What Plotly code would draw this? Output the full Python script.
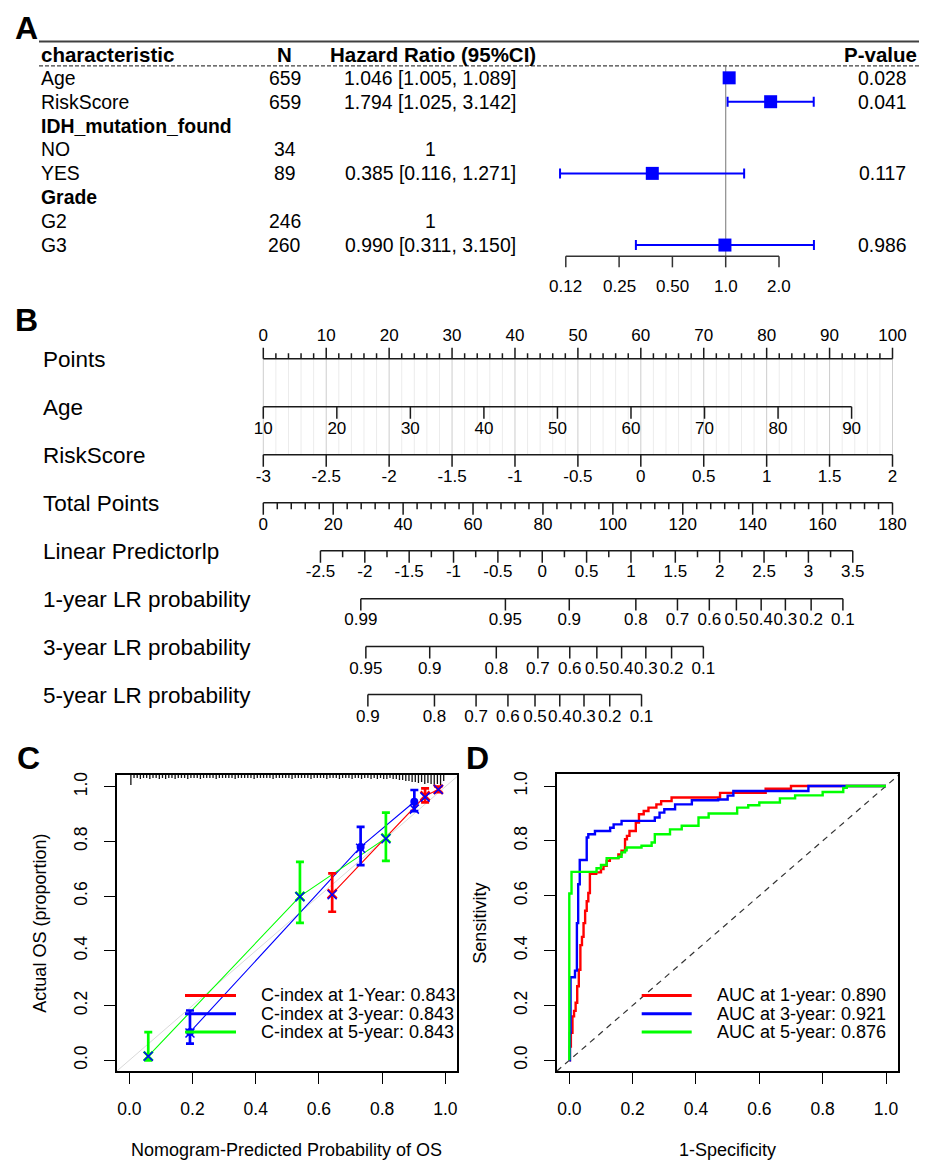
import numpy as np
import plotly.graph_objects as go

# page body has an 8px margin: the figure is drawn at an 8px offset
OFF = 8
W, H = 935 - OFF, 1176 - OFF
FONT = "Liberation Sans, Arial, Helvetica, sans-serif"

# ---------------- Panel A data (multivariate Cox) ----------------
a_labels = ["Age", "RiskScore", "IDH_mutation_found", "NO", "YES", "Grade", "G2", "G3"]
a_bold = [False, False, True, False, False, True, False, False]
a_n = ["659", "659", "", "34", "89", "", "246", "260"]
a_hr_text = ["1.046 [1.005, 1.089]", "1.794 [1.025, 3.142]", "", "1",
             "0.385 [0.116, 1.271]", "", "1", "0.990 [0.311, 3.150]"]
a_p = ["0.028", "0.041", "", "", "0.117", "", "", "0.986"]
a_hr = [1.046, 1.794, None, None, 0.385, None, None, 0.990]
a_lo = [1.005, 1.025, None, None, 0.116, None, None, 0.311]
a_hi = [1.089, 3.142, None, None, 1.271, None, None, 3.150]
a_ticks = [0.125, 0.25, 0.5, 1.0, 2.0]
a_ticktext = ["0.12", "0.25", "0.50", "1.0", "2.0"]

# ---------------- Panel B data (nomogram) ----------------
b_rows = ["Points", "Age", "RiskScore", "Total Points", "Linear Predictorlp",
          "1-year LR probability", "3-year LR probability", "5-year LR probability"]
points_ticks = [0, 10, 20, 30, 40, 50, 60, 70, 80, 90, 100]
points_minor_step = 2
age_ticks = [10, 20, 30, 40, 50, 60, 70, 80, 90]
risk_ticks = [-3, -2.5, -2, -1.5, -1, -0.5, 0, 0.5, 1, 1.5, 2]
total_ticks = [0, 20, 40, 60, 80, 100, 120, 140, 160, 180]
total_minor_step = 4
lp_ticks = [-2.5, -2, -1.5, -1, -0.5, 0, 0.5, 1, 1.5, 2, 2.5, 3, 3.5]
lp_minor_step = 0.25
surv_1yr = [0.99, 0.95, 0.9, 0.8, 0.7, 0.6, 0.5, 0.4, 0.3, 0.2, 0.1]
surv_3yr = [0.95, 0.9, 0.8, 0.7, 0.6, 0.5, 0.4, 0.3, 0.2, 0.1]
surv_5yr = [0.9, 0.8, 0.7, 0.6, 0.5, 0.4, 0.3, 0.2, 0.1]
# model scaling
age_min, age_pts_per_year = 10, 93.5 / 80
risk_min, risk_pts_per_unit = -3, 20.0
total_max = 180
lp_tp0, lp_tp_per_unit = 79.8, 25.38
cloglog_base = {"1": -2.555, "3": -0.982, "5": -0.285}

# ---------------- Panel C data (calibration) ----------------
cal_pred_1 = [0.642, 0.936, 0.978]
cal_obs_1 = [0.608, 0.966, 0.990]
cal_lo_1 = [0.543, 0.943, 0.980]
cal_hi_1 = [0.683, 0.994, 1.000]
cal_cor_1 = [0.605, 0.962, 0.990]
cal_pred_3 = [0.192, 0.732, 0.902]
cal_obs_3 = [0.103, 0.780, 0.945]
cal_lo_3 = [0.061, 0.713, 0.911]
cal_hi_3 = [0.182, 0.853, 0.988]
cal_cor_3 = [0.100, 0.775, 0.918]
cal_pred_5 = [0.060, 0.540, 0.812]
cal_obs_5 = [0.015, 0.599, 0.812]
cal_lo_5 = [0.000, 0.502, 0.729]
cal_hi_5 = [0.103, 0.725, 0.905]
cal_cor_5 = [0.015, 0.598, 0.810]
c_index = [0.843, 0.843, 0.843]
c_labels = ["1-Year", "3-year", "5-year"]
# distribution of predicted probabilities (rug spike heights, bins of 0.01)
rug_counts = [9, 2, 2, 3, 2, 2, 3, 2, 2, 3,
              2, 3, 2, 2, 3, 2, 2, 2, 3, 2,
              2, 2, 3, 2, 2, 2, 2, 3, 2, 2,
              2, 2, 2, 3, 2, 2, 2, 2, 2, 3,
              2, 2, 2, 2, 2, 3, 2, 2, 2, 2,
              2, 3, 2, 2, 2, 2, 2, 3, 2, 2,
              2, 2, 3, 2, 2, 2, 3, 2, 2, 2,
              3, 2, 2, 3, 2, 2, 3, 2, 3, 2,
              3, 3, 2, 3, 3, 4, 4, 5, 5, 6,
              6, 7, 6, 8, 7, 8, 9, 8, 9, 5]

# ---------------- Panel D data (time-dependent ROC) ----------------
roc1_fpr = [0, 0.002, 0.005, 0.010, 0.015, 0.020, 0.025, 0.030, 0.035, 0.040, 0.045, 0.050, 0.055,
            0.060, 0.065, 0.085, 0.100, 0.108, 0.118, 0.128, 0.155, 0.165, 0.176, 0.182, 0.190,
            0.210, 0.220, 0.235, 0.250, 0.275, 0.290, 0.323, 0.476, 0.620, 0.700, 1.0]
roc1_tpr = [0, 0.05, 0.10, 0.16, 0.18, 0.21, 0.27, 0.33, 0.42, 0.45, 0.50, 0.545, 0.58,
            0.61, 0.68, 0.685, 0.697, 0.709, 0.727, 0.737, 0.75, 0.764, 0.806, 0.818, 0.836,
            0.867, 0.897, 0.909, 0.921, 0.933, 0.945, 0.958, 0.975, 0.99, 1.0, 1.0]
roc3_fpr = [0, 0.002, 0.004, 0.018, 0.024, 0.028, 0.033, 0.055, 0.060, 0.081, 0.129, 0.140, 0.165,
            0.270, 0.285, 0.300, 0.334, 0.387, 0.470, 0.500, 0.518, 0.755, 1.0]
roc3_tpr = [0, 0.10, 0.303, 0.327, 0.50, 0.642, 0.73, 0.812, 0.824, 0.836, 0.848, 0.86, 0.873,
            0.885, 0.903, 0.915, 0.933, 0.948, 0.951, 0.965, 0.982, 1.0, 1.0]
roc5_fpr = [0, 0, 0.007, 0.086, 0.100, 0.118, 0.155, 0.165, 0.176, 0.181, 0.228, 0.260, 0.270,
            0.318, 0.355, 0.408, 0.440, 0.530, 0.565, 0.600, 0.665, 0.713, 0.800, 0.865, 0.876, 1.0]
roc5_tpr = [0, 0.608, 0.687, 0.70, 0.712, 0.737, 0.742, 0.758, 0.766, 0.776, 0.782, 0.794, 0.824,
            0.842, 0.855, 0.885, 0.90, 0.921, 0.93, 0.94, 0.955, 0.966, 0.978, 0.993, 1.0, 1.0]
auc = [0.890, 0.921, 0.876]
auc_labels = ["1-year", "3-year", "5-year"]

RED, BLUE, GREEN = "#FF0000", "#0000FF", "#00FF00"


def px(x):
    return (x - OFF) / W


def py(y):
    return 1 - (y - OFF) / H


def lin_range(p0, v0, p1, v1, d_a, d_b):
    s = (p1 - p0) / (v1 - v0)
    return [v0 + (d_a - p0) / s, v0 + (d_b - p0) / s]


fig = go.Figure()
shapes = []
ann = []


def text_ann(x, y, text, size, xref="paper", yref="paper", xanchor="left", yanchor="middle",
             angle=0, color="black"):
    ann.append(dict(x=x, y=y, xref=xref, yref=yref, text=text, showarrow=False,
                    xanchor=xanchor, yanchor=yanchor, textangle=angle,
                    font=dict(family=FONT, size=size, color=color)))


# ======================= Panel A =======================
A_ROW0, A_DROW = 75.0, 23.95
xa1 = lin_range(725.7, 0, 779.0, 1, 530, 840)
ya1 = lin_range(A_ROW0, 0, A_ROW0 + A_DROW, 1, 300, 28)

rows = list(range(len(a_labels)))
hr_x, hr_y, e_plus, e_minus = [], [], [], []
for i, (h, lo, hi) in enumerate(zip(a_hr, a_lo, a_hi)):
    if h is None:
        continue
    hr_x.append(np.log2(h))
    hr_y.append(i)
    e_plus.append(np.log2(hi) - np.log2(h))
    e_minus.append(np.log2(h) - np.log2(lo))

fig.add_trace(go.Scatter(
    x=hr_x, y=hr_y, mode="markers", xaxis="x", yaxis="y", cliponaxis=False,
    marker=dict(symbol="square", size=13, color=BLUE),
    error_x=dict(type="data", symmetric=False, array=e_plus, arrayminus=e_minus,
                 color=BLUE, thickness=2, width=5),
    hoverinfo="skip", showlegend=False))

# header
shapes.append(dict(type="line", xref="paper", yref="paper", x0=px(39), x1=px(919),
                   y0=py(38.5), y1=py(38.5), line=dict(color="#404040", width=2)))
shapes.append(dict(type="line", xref="paper", yref="paper", x0=px(39), x1=px(919),
                   y0=py(63), y1=py(63), line=dict(color="#404040", width=1.3, dash="4px,2px")))
text_ann(px(39), py(51.5), "<b>characteristic</b>", 20.5)
text_ann(px(284.5), py(51.5), "<b>N</b>", 20.5, xanchor="center")
text_ann(px(328), py(51.5), "<b>Hazard Ratio (95%CI)</b>", 20.5)
text_ann(px(919), py(51.5), "<b>P-value</b>", 20.5, xanchor="right")

for i in rows:
    lab = f"<b>{a_labels[i]}</b>" if a_bold[i] else a_labels[i]
    text_ann(px(39), i, lab, 19.4, yref="y")
    if a_n[i]:
        text_ann(px(284.5), i, a_n[i], 19.4, yref="y", xanchor="center")
    if a_hr_text[i]:
        text_ann(px(430), i, a_hr_text[i], 19.4, yref="y", xanchor="center")
    if a_p[i]:
        text_ann(px(882.6), i, a_p[i], 19.4, yref="y", xanchor="center")

# reference line at HR = 1
shapes.append(dict(type="line", xref="x", yref="paper", x0=0, x1=0, y0=py(63.5), y1=py(254),
                   line=dict(color="#8c8c8c", width=1.2), layer="below"))
# HR axis
t_log = [float(np.log2(t)) for t in a_ticks]
shapes.append(dict(type="line", xref="x", yref="paper", x0=min(t_log), x1=max(t_log),
                   y0=py(254), y1=py(254), line=dict(color="#333333", width=1.5)))
for t, lab in zip(t_log, a_ticktext):
    shapes.append(dict(type="line", xref="x", yref="paper", x0=t, x1=t, y0=py(254), y1=py(265),
                       line=dict(color="#333333", width=1.5)))
    text_ann(t, py(284), lab, 17, xref="x", xanchor="center")

# ======================= Panel B =======================
B_P0, B_P100 = 263.3, 892.5
ROW0, DROW = 356.7, 48.09
xa2 = lin_range(B_P0, 0, B_P100, 100, 240, 925)
ya2 = lin_range(ROW0, 0, ROW0 + DROW, 1, 735, 300)


def rpx(p):
    return p / DROW


def pts_age(a):
    return (np.asarray(a, float) - age_min) * age_pts_per_year


def pts_risk(r):
    return (np.asarray(r, float) - risk_min) * risk_pts_per_unit


def pts_total(t):
    return np.asarray(t, float) * 100.0 / total_max


def pts_lp(l):
    return pts_total(lp_tp0 + lp_tp_per_unit * np.asarray(l, float))


def lp_of_surv(s, key):
    return np.log(-np.log(np.asarray(s, float))) - cloglog_base[key]


# light grid lines between Points and RiskScore
grid_pts = np.arange(points_ticks[0], points_ticks[-1] + 1e-9, points_minor_step)
for g in grid_pts:
    major = abs(g % 10) < 1e-9
    fig.add_trace(go.Scatter(x=[g, g], y=[0, 2], mode="lines", xaxis="x2", yaxis="y2",
                             line=dict(color="#cdcdcd" if major else "#ececec", width=1),
                             hoverinfo="skip", showlegend=False))


def add_scale(row, pos, labels, minor=None, up=False, label_off=23.0, major_len=12.0, minor_len=6.5):
    sign = -1 if up else 1
    pos = [float(p) for p in pos]
    allp = pos + ([float(m) for m in minor] if minor is not None else [])
    xs = [min(allp), max(allp), None]
    ys = [row, row, None]
    for p in pos:
        xs += [p, p, None]
        ys += [row, row + sign * rpx(major_len), None]
    if minor is not None:
        for m in minor:
            xs += [float(m), float(m), None]
            ys += [row, row + sign * rpx(minor_len), None]
    fig.add_trace(go.Scatter(x=xs, y=ys, mode="lines", xaxis="x2", yaxis="y2",
                             line=dict(color="#1a1a1a", width=1.5), hoverinfo="skip",
                             showlegend=False))
    fig.add_trace(go.Scatter(x=pos, y=[row + sign * rpx(label_off)] * len(pos), mode="text",
                             text=labels, textposition="middle center", xaxis="x2", yaxis="y2",
                             textfont=dict(family=FONT, size=17, color="black"),
                             cliponaxis=False, hoverinfo="skip", showlegend=False))


def fmt(v):
    return f"{v:g}"


pm = [v for v in np.arange(points_ticks[0], points_ticks[-1] + 1e-9, points_minor_step)
      if abs(v % 10) > 1e-9]
add_scale(0, points_ticks, [fmt(v) for v in points_ticks], minor=pm, up=True,
          label_off=21.7, major_len=11, minor_len=5.5)
add_scale(1, pts_age(age_ticks), [fmt(v) for v in age_ticks])
add_scale(2, pts_risk(risk_ticks), [fmt(v) for v in risk_ticks])
tm = [v for v in np.arange(total_ticks[0], total_ticks[-1] + 1e-9, total_minor_step)
      if abs(v % 20) > 1e-9]
add_scale(3, pts_total(total_ticks), [fmt(v) for v in total_ticks], minor=pts_total(tm))
lm = [v for v in np.arange(lp_ticks[0], lp_ticks[-1] + 1e-9, lp_minor_step)
      if abs((v * 2) % 1) > 1e-9]
add_scale(4, pts_lp(lp_ticks), [fmt(v) for v in lp_ticks], minor=pts_lp(lm), label_off=22.4)
add_scale(5, pts_lp(lp_of_surv(surv_1yr, "1")), [fmt(v) for v in surv_1yr], label_off=22.4)
add_scale(6, pts_lp(lp_of_surv(surv_3yr, "3")), [fmt(v) for v in surv_3yr], label_off=23.3)
add_scale(7, pts_lp(lp_of_surv(surv_5yr, "5")), [fmt(v) for v in surv_5yr], label_off=23.3)

for i, lab in enumerate(b_rows):
    text_ann(px(41), i + rpx(1.0), lab, 22.5, yref="y2")

# ======================= Panel C =======================
xa3 = lin_range(129.3, 0, 445.3, 1, 116.7, 457.3)
ya3 = lin_range(1060, 0, 785.7, 1, 1071, 774)
ya3_px_unit = 1.0 / 274.3

# ideal diagonal
fig.add_trace(go.Scatter(x=[xa3[0], xa3[1]], y=[xa3[0], xa3[1]], mode="lines", xaxis="x3", yaxis="y3",
                         line=dict(color="#d9d9d9", width=1), hoverinfo="skip", showlegend=False))
# rug of predicted probabilities along the top
rx, ry = [], []
for k, c in enumerate(rug_counts):
    xv = (k + 0.5) / len(rug_counts)
    rx += [xv, xv, None]
    ry += [ya3[1], ya3[1] - (c + 1) * ya3_px_unit, None]
fig.add_trace(go.Scatter(x=rx, y=ry, mode="lines", xaxis="x3", yaxis="y3",
                         line=dict(color="#111111", width=1.3), hoverinfo="skip", showlegend=False))

cal_sets = [
    (cal_pred_1, cal_obs_1, cal_lo_1, cal_hi_1, cal_cor_1, RED, "x-thin"),
    (cal_pred_3, cal_obs_3, cal_lo_3, cal_hi_3, cal_cor_3, BLUE, "circle"),
    (cal_pred_5, cal_obs_5, cal_lo_5, cal_hi_5, cal_cor_5, GREEN, "x-thin"),
]
for pred, obs, lo, hi, cor, col, sym in cal_sets:
    fig.add_trace(go.Scatter(x=pred, y=obs, mode="lines", xaxis="x3", yaxis="y3",
                             line=dict(color=col, width=1.1), hoverinfo="skip", showlegend=False))
for pred, obs, lo, hi, cor, col, sym in cal_sets:
    mk = dict(symbol=sym, size=9 if sym == "x-thin" else 8, color=col,
              line=dict(color=col, width=2.5 if sym == "x-thin" else 0))
    fig.add_trace(go.Scatter(
        x=pred, y=obs, mode="markers", xaxis="x3", yaxis="y3", cliponaxis=False, marker=mk,
        error_y=dict(type="data", symmetric=False,
                     array=[h - o for h, o in zip(hi, obs)],
                     arrayminus=[o - l for o, l in zip(obs, lo)],
                     color=col, thickness=2.7, width=4),
        hoverinfo="skip", showlegend=False))
for pred, obs, lo, hi, cor, col, sym in cal_sets:
    fig.add_trace(go.Scatter(x=pred, y=cor, mode="markers", xaxis="x3", yaxis="y3", cliponaxis=False,
                             marker=dict(symbol="x-thin", size=9, color=BLUE,
                                         line=dict(color=BLUE, width=1.5)),
                             hoverinfo="skip", showlegend=False))

leg_y = [995, 1013.3, 1031.7]
for col, lab, ci, yy in zip([RED, BLUE, GREEN], c_labels, c_index, leg_y):
    shapes.append(dict(type="line", xref="paper", yref="paper", x0=px(185), x1=px(236),
                       y0=py(yy), y1=py(yy), line=dict(color=col, width=3)))
    text_ann(px(259), py(yy), f"C-index at {lab}: {ci:.3f}", 18)

text_ann(px(286), py(1150), "Nomogram-Predicted Probability of OS", 18, xanchor="center")
text_ann(px(40), py(923), "Actual OS (proportion)", 18, xanchor="center", angle=-90)

# ======================= Panel D =======================
xa4 = lin_range(569.3, 0, 886.0, 1, 556.7, 898.3)
ya4 = lin_range(1060, 0, 785, 1, 1071, 773.3)
fig.add_trace(go.Scatter(x=[xa4[0], xa4[1]], y=[xa4[0], xa4[1]], mode="lines", xaxis="x4", yaxis="y4",
                         line=dict(color="#333333", width=1.2, dash="6px,5px"),
                         hoverinfo="skip", showlegend=False))
for fpr, tpr, col in [(roc1_fpr, roc1_tpr, RED), (roc3_fpr, roc3_tpr, BLUE), (roc5_fpr, roc5_tpr, GREEN)]:
    fig.add_trace(go.Scatter(x=fpr, y=tpr, mode="lines", line_shape="hv", xaxis="x4", yaxis="y4",
                             line=dict(color=col, width=2.4), hoverinfo="skip", showlegend=False))
for col, lab, a, yy in zip([RED, BLUE, GREEN], auc_labels, auc, leg_y):
    shapes.append(dict(type="line", xref="paper", yref="paper", x0=px(641.7), x1=px(691.7),
                       y0=py(yy), y1=py(yy), line=dict(color=col, width=3)))
    text_ann(px(715), py(yy), f"AUC at {lab}: {a:.3f}", 18)

text_ann(px(727.7), py(1150), "1-Specificity", 18, xanchor="center")
text_ann(px(480), py(923), "Sensitivity", 18, xanchor="center", angle=-90)

# panel letters
for letter, x, y in [("A", 13, 25), ("B", 13, 318), ("C", 15, 757), ("D", 464, 757)]:
    text_ann(px(x), py(y), f"<b>{letter}</b>", 32)

tick01 = [0, 0.2, 0.4, 0.6, 0.8, 1.0]
ax_box = dict(showline=True, mirror=True, linecolor="black", linewidth=1.5, ticks="outside",
              ticklen=11, tickwidth=1.3, tickcolor="black", showgrid=False, zeroline=False,
              tickvals=tick01, ticktext=[f"{v:.1f}" for v in tick01],
              tickfont=dict(family=FONT, size=17.5, color="black"), fixedrange=True)
hidden = dict(visible=False, showgrid=False, zeroline=False, fixedrange=True)

fig.update_layout(
    width=W, height=H, margin=dict(l=0, r=0, t=0, b=0),
    paper_bgcolor="white", plot_bgcolor="rgba(0,0,0,0)", showlegend=False,
    xaxis=dict(domain=[px(530), px(840)], range=xa1, anchor="y", **hidden),
    yaxis=dict(domain=[py(300), py(28)], range=ya1, anchor="x", **hidden),
    xaxis2=dict(domain=[px(240), px(925)], range=xa2, anchor="y2", **hidden),
    yaxis2=dict(domain=[py(735), py(300)], range=ya2, anchor="x2", **hidden),
    xaxis3=dict(domain=[px(116.7), px(457.3)], range=xa3, anchor="y3", ticklabelstandoff=10, **ax_box),
    yaxis3=dict(domain=[py(1071), py(774)], range=ya3, anchor="x3", tickangle=-90,
                ticklabelstandoff=10, **ax_box),
    xaxis4=dict(domain=[px(556.7), px(898.3)], range=xa4, anchor="y4", ticklabelstandoff=10, **ax_box),
    yaxis4=dict(domain=[py(1071), py(773.3)], range=ya4, anchor="x4", tickangle=-90,
                ticklabelstandoff=10, **ax_box),
    shapes=shapes, annotations=ann,
)

fig.write_html("out.html")
